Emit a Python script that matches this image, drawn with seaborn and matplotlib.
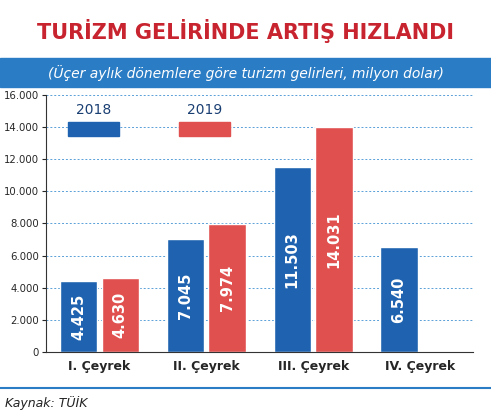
import matplotlib
matplotlib.use("Agg")
import matplotlib.pyplot as plt
import seaborn as sns
import pandas as pd
from matplotlib.patches import Rectangle

# Veri
ceyrekler = ["I. Çeyrek", "II. Çeyrek", "III. Çeyrek", "IV. Çeyrek"]
gelir_2018 = [4425, 7045, 11503, 6540]
gelir_2019 = [4630, 7974, 14031, None]
yillar = ["2018", "2019"]
renkler = ["#1f63b0", "#e0504f"]

df = pd.DataFrame({
    "ceyrek": ceyrekler * 2,
    "yil": ["2018"] * 4 + ["2019"] * 4,
    "gelir": gelir_2018 + gelir_2019,
})

sns.set_style("white")
plt.rcParams["font.family"] = ["DejaVu Sans"]

fig = plt.figure(figsize=(4.91, 4.15), dpi=100)
ax = fig.add_axes([0.094, 0.152, 0.87, 0.619])

sns.barplot(data=df, x="ceyrek", y="gelir", hue="yil", palette=renkler,
            width=0.78, gap=0.1, ax=ax, legend=False, saturation=1)

def fmt(v):
    return f"{int(v):,}".replace(",", ".")

for cont in ax.containers:
    for bar in cont:
        h = bar.get_height()
        if h and h == h and h > 0:
            ax.text(bar.get_x() + bar.get_width() / 2, h / 2, fmt(h),
                    rotation=90, ha="center", va="center", color="white",
                    fontsize=10.5, fontweight="bold")

ax.set_ylim(0, 16000)
ax.set_yticks(range(0, 16001, 2000))
ax.set_yticklabels([fmt(v) for v in range(0, 16001, 2000)], fontsize=7.3)
ax.yaxis.grid(True, linestyle=(0, (2, 2)), color="#5aa0d8", linewidth=0.7)
ax.set_axisbelow(True)
ax.set_xlabel("")
ax.set_ylabel("")
ax.tick_params(axis="x", labelsize=9, length=0, pad=6)
ax.tick_params(axis="y", length=3, left=True, pad=2)
for lbl in ax.get_xticklabels():
    lbl.set_fontweight("bold")
for s in ["top", "right"]:
    ax.spines[s].set_visible(False)
ax.spines["left"].set_color("#333333")
ax.spines["bottom"].set_color("#333333")

# Lejant
for i, (yil, renk) in enumerate(zip(yillar, renkler)):
    x0 = 0.05 + i * 0.26
    ax.add_patch(Rectangle((x0, 0.84), 0.12, 0.055, transform=ax.transAxes,
                           color=renk, clip_on=False))
    ax.text(x0 + 0.06, 0.915, yil, transform=ax.transAxes, ha="center",
            va="bottom", fontsize=10, color="#1a3f73")

# Başlık ve alt başlık
fig.text(0.5, 0.925, "TURİZM GELİRİNDE ARTIŞ HIZLANDI", ha="center",
         va="center", fontsize=15, fontweight="bold", color="#c8242f")
fig.patches.append(Rectangle((0.0, 0.79), 1.0, 0.07, transform=fig.transFigure,
                             color="#2a7cc4", zorder=0))
fig.text(0.5, 0.825, "(Üçer aylık dönemlere göre turizm gelirleri, milyon dolar)",
         ha="center", va="center", fontsize=10, style="italic", color="white")

# Kaynak
fig.add_artist(plt.Line2D([0, 1], [0.065, 0.065], transform=fig.transFigure,
                          color="#2a7cc4", linewidth=1.5))
fig.text(0.01, 0.03, "Kaynak: TÜİK", ha="left", va="center", fontsize=9,
         style="italic", color="#222222")

fig.savefig("out.png", dpi=100)
